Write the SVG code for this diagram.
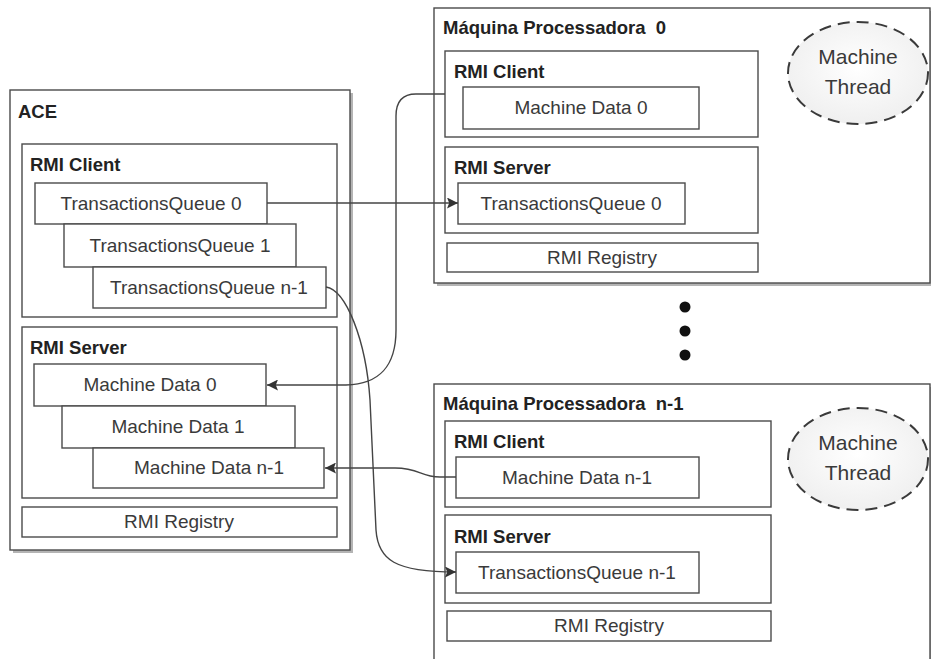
<svg xmlns="http://www.w3.org/2000/svg" width="931" height="659" viewBox="0 0 931 659">
  <style>
    .box { fill: #ffffff; stroke: #4a4a4a; stroke-width: 1.4; }
    .shadow { fill: #b4b4b4; stroke: none; }
    .title { font-family: "Liberation Sans", Arial, sans-serif; font-size: 18.5px; font-weight: bold; fill: #222222; white-space: pre; }
    .txt { font-family: "Liberation Sans", Arial, sans-serif; font-size: 19px; fill: #3a3a3a; text-anchor: middle; }
    .thread { fill: url(#threadFill); stroke: #3a3a3a; stroke-width: 2; stroke-dasharray: 12 7; }
    .thread-txt { font-family: "Liberation Sans", Arial, sans-serif; font-size: 21px; fill: #3a3a3a; text-anchor: middle; }
    .conn { fill: none; stroke: #444444; stroke-width: 1.4; marker-end: url(#arrow); }
    .dot { fill: #111111; }
  </style>
  <defs>
    <marker id="arrow" viewBox="0 0 10 10" refX="10" refY="5" markerWidth="11" markerHeight="11" markerUnits="userSpaceOnUse" orient="auto">
      <path d="M0,0 L10,5 L0,10 L2,5 Z" fill="#333333"/>
    </marker>
    <radialGradient id="threadFill" cx="50%" cy="45%" r="60%">
      <stop offset="0" stop-color="#ffffff"/>
      <stop offset="1" stop-color="#eeeeee"/>
    </radialGradient>
  </defs>

  <rect width="931" height="659" fill="#ffffff"/>

  <!-- ACE node -->
  <g id="ace">
    <rect class="shadow" x="13" y="93" width="340" height="460"/>
    <rect class="box" x="10" y="90" width="340" height="460"/>
    <text class="title" x="18" y="118">ACE</text>

    <g id="ace-rmi-client">
      <rect class="box" x="22" y="144" width="315" height="173"/>
      <text class="title" x="30" y="171">RMI Client</text>
      <rect class="box" x="35" y="183" width="232" height="41"/>
      <text class="txt" x="151" y="210">TransactionsQueue 0</text>
      <rect class="box" x="64" y="224" width="232" height="43"/>
      <text class="txt" x="180" y="252">TransactionsQueue 1</text>
      <rect class="box" x="93" y="267" width="233" height="41"/>
      <text class="txt" x="209" y="294">TransactionsQueue n-1</text>
    </g>

    <g id="ace-rmi-server">
      <rect class="box" x="22" y="327" width="315" height="171"/>
      <text class="title" x="30" y="354">RMI Server</text>
      <rect class="box" x="34" y="364" width="232" height="42"/>
      <text class="txt" x="150" y="391">Machine Data 0</text>
      <rect class="box" x="62" y="406" width="233" height="42"/>
      <text class="txt" x="178" y="433">Machine Data 1</text>
      <rect class="box" x="93" y="448" width="231" height="40"/>
      <text class="txt" x="209" y="474">Machine Data n-1</text>
    </g>

    <g id="ace-rmi-registry">
      <rect class="box" x="22" y="507" width="315" height="30"/>
      <text class="txt" x="179" y="528">RMI Registry</text>
    </g>
  </g>

  <!-- Processing machine 0 -->
  <g id="machine-0">
    <rect class="shadow" x="437" y="11" width="496" height="275"/>
    <rect class="box" x="434" y="8" width="496" height="275"/>
    <text class="title" x="443" y="34">Máquina Processadora  0</text>

    <g id="machine-0-rmi-client">
      <rect class="box" x="445" y="51" width="313" height="86"/>
      <text class="title" x="454" y="78">RMI Client</text>
      <rect class="box" x="463" y="87" width="236" height="42"/>
      <text class="txt" x="581" y="114">Machine Data 0</text>
    </g>

    <g id="machine-0-rmi-server">
      <rect class="box" x="445" y="147" width="313" height="86"/>
      <text class="title" x="454" y="174">RMI Server</text>
      <rect class="box" x="458" y="183" width="227" height="41"/>
      <text class="txt" x="571" y="210">TransactionsQueue 0</text>
    </g>

    <g id="machine-0-rmi-registry">
      <rect class="box" x="447" y="243" width="311" height="29"/>
      <text class="txt" x="602" y="264">RMI Registry</text>
    </g>

    <g id="machine-0-thread">
      <ellipse class="thread" cx="858" cy="73" rx="70" ry="51"/>
      <text class="thread-txt" x="858" y="64">Machine</text>
      <text class="thread-txt" x="858" y="94">Thread</text>
    </g>
  </g>

  <!-- Ellipsis between machines -->
  <g id="more-machines">
    <circle class="dot" cx="685" cy="307" r="5.5"/>
    <circle class="dot" cx="685" cy="331" r="5.5"/>
    <circle class="dot" cx="685" cy="355" r="5.5"/>
  </g>

  <!-- Processing machine n-1 -->
  <g id="machine-n1">
    <rect class="shadow" x="437" y="387" width="496" height="300"/>
    <rect class="box" x="434" y="384" width="496" height="300"/>
    <text class="title" x="443" y="410">Máquina Processadora  n-1</text>

    <g id="machine-n1-rmi-client">
      <rect class="box" x="445" y="421" width="326" height="86"/>
      <text class="title" x="454" y="448">RMI Client</text>
      <rect class="box" x="456" y="457" width="243" height="41"/>
      <text class="txt" x="577" y="484">Machine Data n-1</text>
    </g>

    <g id="machine-n1-rmi-server">
      <rect class="box" x="445" y="515" width="326" height="88"/>
      <text class="title" x="454" y="543">RMI Server</text>
      <rect class="box" x="456" y="552" width="243" height="41"/>
      <text class="txt" x="577" y="579">TransactionsQueue n-1</text>
    </g>

    <g id="machine-n1-rmi-registry">
      <rect class="box" x="447" y="611" width="324" height="30"/>
      <text class="txt" x="609" y="632">RMI Registry</text>
    </g>

    <g id="machine-n1-thread">
      <ellipse class="thread" cx="858" cy="459" rx="70" ry="51"/>
      <text class="thread-txt" x="858" y="450">Machine</text>
      <text class="thread-txt" x="858" y="480">Thread</text>
    </g>
  </g>

  <!-- Connectors -->
  <g id="connectors">
    <path class="conn" d="M267,203 L458,203"/>
    <path class="conn" d="M445,94 L416,94 C402,94 396,102 396,116 L396,330 C396,366 380,384 346,385 L267,385"/>
    <path class="conn" d="M326,287 C346,290 366,340 370,400 L376,530 C378,560 395,572 456,572"/>
    <path class="conn" d="M456,477 L440,477 C420,477 420,468 395,468 L325,468"/>
  </g>
</svg>
